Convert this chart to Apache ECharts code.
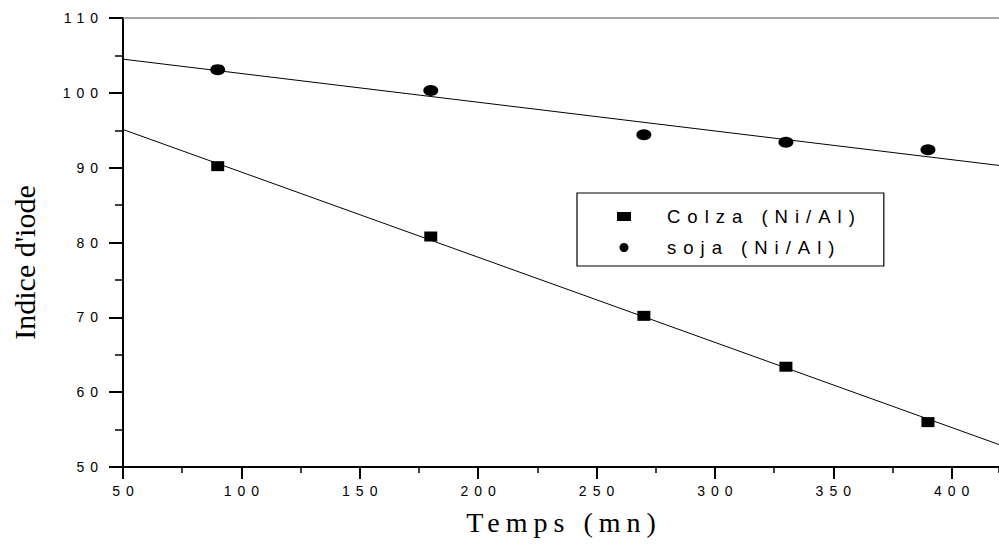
<!DOCTYPE html>
<html>
<head>
  <meta charset="UTF-8">
  <title>Indice d'iode</title>
  <script src="https://cdn.jsdelivr.net/npm/echarts@6/dist/echarts.min.js"></script>
  <style>
    html, body { margin: 0; padding: 0; background: #fff; }
    #chart { width: 999px; height: 544px; }
    /* lettres espacees comme sur l'original */
    #chart text[style*="Liberation Sans"] { letter-spacing: 6px; }
    #chart text[style*="18.5px"] { letter-spacing: 7px; }
    #chart text[style*="Liberation Serif"] { letter-spacing: 6px; }
  </style>
</head>
<body>
<div id="chart"></div>
<script type="text/javascript">
  // points
  var temps = [90, 180, 270, 330, 390];
  var colza = [90.2, 80.8, 70.2, 63.4, 56.0];
  var soja = [103.1, 100.3, 94.4, 93.4, 92.4];
  // droites de regression (extremites lues)
  var colzaFitX = [50, 420];
  var colzaFitY = [95.1, 53.0];
  var sojaFitX = [50, 420];
  var sojaFitY = [104.5, 90.3];

  function pairs(xs, ys) {
    return xs.map(function (x, i) { return [x, ys[i]]; });
  }

  var labelFont = { color: '#000', fontFamily: 'Liberation Sans', fontSize: 14 };

  var chart = echarts.init(document.getElementById('chart'), null, { renderer: 'svg' });
  chart.setOption({
    animation: false,
    grid: { left: 123, top: 18, right: 0, bottom: 77 },
    legend: {
      orient: 'vertical',
      left: 577,
      top: 193,
      padding: [14, 113, 9, 40],
      itemGap: 12,
      itemWidth: 14,
      itemHeight: 9,
      borderColor: '#000',
      borderWidth: 1.2,
      data: [
        { name: 'Colza (Ni/Al)', icon: 'rect', itemStyle: { color: '#000', opacity: 1 } },
        { name: 'soja (Ni/Al)', icon: 'circle', itemStyle: { color: '#000', opacity: 1 } }
      ],
      textStyle: { color: '#000', fontFamily: 'Liberation Sans', fontSize: 18.5, padding: [0, 0, 0, 31] }
    },
    xAxis: [
      {
        type: 'value', min: 50, max: 420, interval: 50,
        name: 'Temps (mn)', nameLocation: 'middle', nameGap: 41,
        nameTextStyle: { color: '#000', fontFamily: 'Liberation Serif', fontSize: 28, padding: [0, 0, 0, 6] },
        axisLine: { lineStyle: { color: '#000', width: 2 } },
        axisTick: { length: 12, lineStyle: { color: '#000', width: 2 } },
        axisLabel: Object.assign({ margin: 17, showMaxLabel: false, padding: [0, 0, 0, 6] }, labelFont),
        splitLine: { show: false }
      },
      {
        type: 'value', min: 50, max: 420, interval: 25, position: 'bottom',
        axisLine: { show: false },
        axisTick: { length: 6, lineStyle: { color: '#000', width: 1.5 } },
        axisLabel: { show: false },
        splitLine: { show: false }
      },
      {
        type: 'value', min: 50, max: 420, position: 'top',
        axisLine: { lineStyle: { color: '#888', width: 1.5 } },
        axisTick: { show: false },
        axisLabel: { show: false },
        splitLine: { show: false }
      }
    ],
    yAxis: {
      type: 'value', min: 50, max: 110, interval: 10,
      name: "Indice d'iode", nameLocation: 'middle', nameGap: 84, nameRotate: 90,
      nameTextStyle: { color: '#000', fontFamily: 'Times New Roman', fontSize: 30, padding: [0, 0, 0, -40] },
      axisLine: { show: true, lineStyle: { color: '#000', width: 2 } },
      axisTick: { length: 14, lineStyle: { color: '#000', width: 2 } },
      minorTick: { show: true, splitNumber: 2, length: 8, lineStyle: { color: '#000', width: 1.5 } },
      axisLabel: Object.assign({ margin: 19 }, labelFont),
      splitLine: { show: false }
    },
    series: [
      {
        name: 'Colza (Ni/Al)', type: 'scatter', xAxisIndex: 0,
        symbol: 'rect', symbolSize: [13, 10],
        itemStyle: { color: '#000', opacity: 1 },
        data: pairs(temps, colza), z: 3
      },
      {
        name: 'soja (Ni/Al)', type: 'scatter', xAxisIndex: 0,
        symbol: 'circle', symbolSize: [15, 11],
        itemStyle: { color: '#000', opacity: 1 },
        data: pairs(temps, soja), z: 3
      },
      {
        name: 'colzaFit', type: 'line', xAxisIndex: 0, showSymbol: false,
        lineStyle: { color: '#000', width: 1 },
        data: pairs(colzaFitX, colzaFitY)
      },
      {
        name: 'sojaFit', type: 'line', xAxisIndex: 0, showSymbol: false,
        lineStyle: { color: '#000', width: 1 },
        data: pairs(sojaFitX, sojaFitY)
      }
    ]
  });
</script>
</body>
</html>
